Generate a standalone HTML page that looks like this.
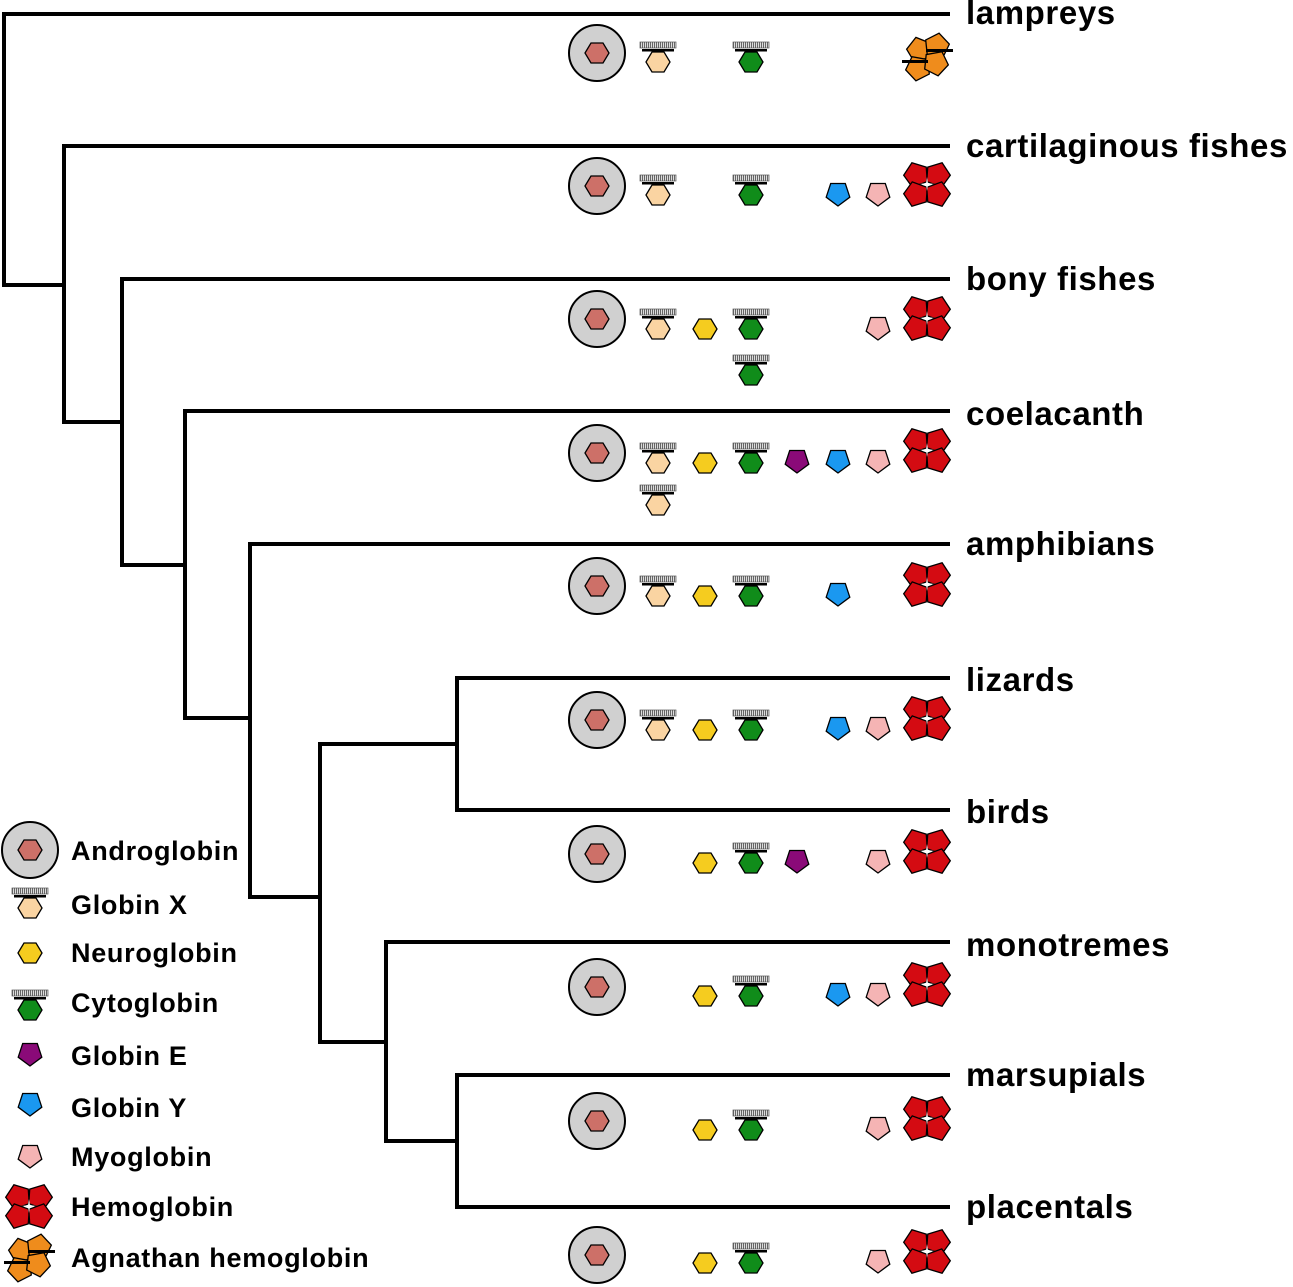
<!DOCTYPE html>
<html><head><meta charset="utf-8"><style>html,body{margin:0;padding:0;background:#fff}svg{display:block}text{font-family:"Liberation Sans",Arial,sans-serif;font-weight:bold;fill:#000}</style></head>
<body>
<svg width="1293" height="1287" viewBox="0 0 1293 1287" xmlns="http://www.w3.org/2000/svg">
<defs>
<pattern id="hatch" width="2" height="6" patternUnits="userSpaceOnUse"><rect width="2" height="6" fill="#ddd"/><rect width="1" height="6" fill="#666"/></pattern>
<g id="hex"><polygon points="-12,0 -6,-10 6,-10 12,0 6,10 -6,10" stroke="#000" stroke-width="1.3"/></g>
<g id="pent"><polygon points="0,11 -11.8,2.2 -7.3,-11.5 7.3,-11.5 11.8,2.2" stroke="#000" stroke-width="1.3"/></g>
<g id="bars"><rect x="-18" y="-20" width="36" height="6" fill="url(#hatch)" stroke="#555" stroke-width="0.7"/><rect x="-16" y="-13" width="32" height="2.5" fill="#000"/></g>
<g id="andro"><circle r="28" fill="#d0d0d0" stroke="#000" stroke-width="2"/><use href="#hex" fill="#cd7068"/></g>
<g id="gx"><use href="#bars"/><use href="#hex" fill="#fad4a2"/></g>
<g id="ng"><use href="#hex" fill="#f5cc1f"/></g>
<g id="cy"><use href="#bars"/><use href="#hex" fill="#108c1a"/></g>
<g id="ge"><use href="#pent" fill="#8a0a78"/></g>
<g id="gy"><use href="#pent" fill="#1a98f0"/></g>
<g id="mb"><use href="#pent" fill="#f5b4b4"/></g>
<g id="hpt"><polygon points="0,-12 12,-3 8,11 -8,11 -12,-3" stroke="#000" stroke-width="1.3"/></g>
<g id="hb" fill="#d40b12"><use href="#hpt" transform="translate(-11,-10) rotate(-20)"/><use href="#hpt" transform="translate(11,-10) rotate(20)"/><use href="#hpt" transform="translate(-11,11) rotate(200)"/><use href="#hpt" transform="translate(11,11) rotate(160)"/><path d="M0,-7 L1,0 L0,7 L-1,0Z M-7,0 L0,-1 L7,0 L0,1Z" fill="#fff"/></g>
<g id="ag" fill="#ef8c1c"><use href="#hpt" transform="translate(-8,-8) rotate(-15)"/><use href="#hpt" transform="translate(10,-12) rotate(10)"/><use href="#hpt" transform="translate(-9,12) rotate(190)"/><use href="#hpt" transform="translate(9,7) rotate(170)"/><rect x="-25" y="3" width="26" height="3" fill="#000"/><rect x="-1" y="-8" width="27" height="3" fill="#000"/></g>
</defs>
<g stroke="#000" stroke-width="4" fill="none" stroke-linecap="square">
<path d="M4,14H948 M4,14V285 M4,285H64 M64,146V422 M64,146H948 M64,422H122 M122,279V565 M122,279H948 M122,565H185 M185,411V718 M185,411H948 M185,718H250 M250,544V897 M250,544H948 M250,897H320 M320,744V1042 M320,744H457 M457,678V810 M457,678H948 M457,810H948 M320,1042H386 M386,942V1141 M386,942H948 M386,1141H457 M457,1075V1207 M457,1075H948 M457,1207H948"/>
</g>
<g font-size="33" letter-spacing="0.6">
<text x="966" y="24">lampreys</text>
<text x="966" y="157">cartilaginous fishes</text>
<text x="966" y="290">bony fishes</text>
<text x="966" y="425">coelacanth</text>
<text x="966" y="555">amphibians</text>
<text x="966" y="691">lizards</text>
<text x="966" y="823">birds</text>
<text x="966" y="956">monotremes</text>
<text x="966" y="1086">marsupials</text>
<text x="966" y="1218">placentals</text>
</g>
<use href="#andro" x="597" y="53"/><use href="#gx" x="658" y="62"/><use href="#cy" x="751" y="62"/><use href="#ag" x="927" y="57"/>
<use href="#andro" x="597" y="186"/><use href="#gx" x="658" y="195"/><use href="#cy" x="751" y="195"/><use href="#gy" x="838" y="195"/><use href="#mb" x="878" y="195"/><use href="#hb" x="927" y="184"/>
<use href="#andro" x="597" y="319"/><use href="#gx" x="658" y="329"/><use href="#ng" x="705" y="329"/><use href="#cy" x="751" y="329"/><use href="#cy" x="751" y="375"/><use href="#mb" x="878" y="329"/><use href="#hb" x="927" y="318"/>
<use href="#andro" x="597" y="453"/><use href="#gx" x="658" y="463"/><use href="#gx" x="658" y="505"/><use href="#ng" x="705" y="463"/><use href="#cy" x="751" y="463"/><use href="#ge" x="797" y="462"/><use href="#gy" x="838" y="462"/><use href="#mb" x="878" y="462"/><use href="#hb" x="927" y="450"/>
<use href="#andro" x="597" y="586"/><use href="#gx" x="658" y="596"/><use href="#ng" x="705" y="596"/><use href="#cy" x="751" y="596"/><use href="#gy" x="838" y="595"/><use href="#hb" x="927" y="584"/>
<use href="#andro" x="597" y="720"/><use href="#gx" x="658" y="730"/><use href="#ng" x="705" y="730"/><use href="#cy" x="751" y="730"/><use href="#gy" x="838" y="729"/><use href="#mb" x="878" y="729"/><use href="#hb" x="927" y="718"/>
<use href="#andro" x="597" y="854"/><use href="#ng" x="705" y="863"/><use href="#cy" x="751" y="863"/><use href="#ge" x="797" y="862"/><use href="#mb" x="878" y="862"/><use href="#hb" x="927" y="851"/>
<use href="#andro" x="597" y="987"/><use href="#ng" x="705" y="996"/><use href="#cy" x="751" y="996"/><use href="#gy" x="838" y="995"/><use href="#mb" x="878" y="995"/><use href="#hb" x="927" y="984"/>
<use href="#andro" x="597" y="1121"/><use href="#ng" x="705" y="1130"/><use href="#cy" x="751" y="1130"/><use href="#mb" x="878" y="1129"/><use href="#hb" x="927" y="1118"/>
<use href="#andro" x="597" y="1255"/><use href="#ng" x="705" y="1263"/><use href="#cy" x="751" y="1263"/><use href="#mb" x="878" y="1262"/><use href="#hb" x="927" y="1251"/>
<use href="#andro" x="30" y="850"/><use href="#gx" x="30" y="908"/><use href="#ng" x="30" y="953"/><use href="#cy" x="30" y="1010"/><use href="#ge" x="30" y="1055"/><use href="#gy" x="30" y="1105"/><use href="#mb" x="30" y="1157"/><use href="#hb" x="29" y="1206"/><use href="#ag" x="29" y="1258"/>
<g font-size="27" letter-spacing="0.7">
<text x="71" y="860">Androglobin</text>
<text x="71" y="914">Globin X</text>
<text x="71" y="962">Neuroglobin</text>
<text x="71" y="1012">Cytoglobin</text>
<text x="71" y="1065">Globin E</text>
<text x="71" y="1117">Globin Y</text>
<text x="71" y="1166">Myoglobin</text>
<text x="71" y="1216">Hemoglobin</text>
<text x="71" y="1267">Agnathan hemoglobin</text>
</g>
</svg>
</body></html>
